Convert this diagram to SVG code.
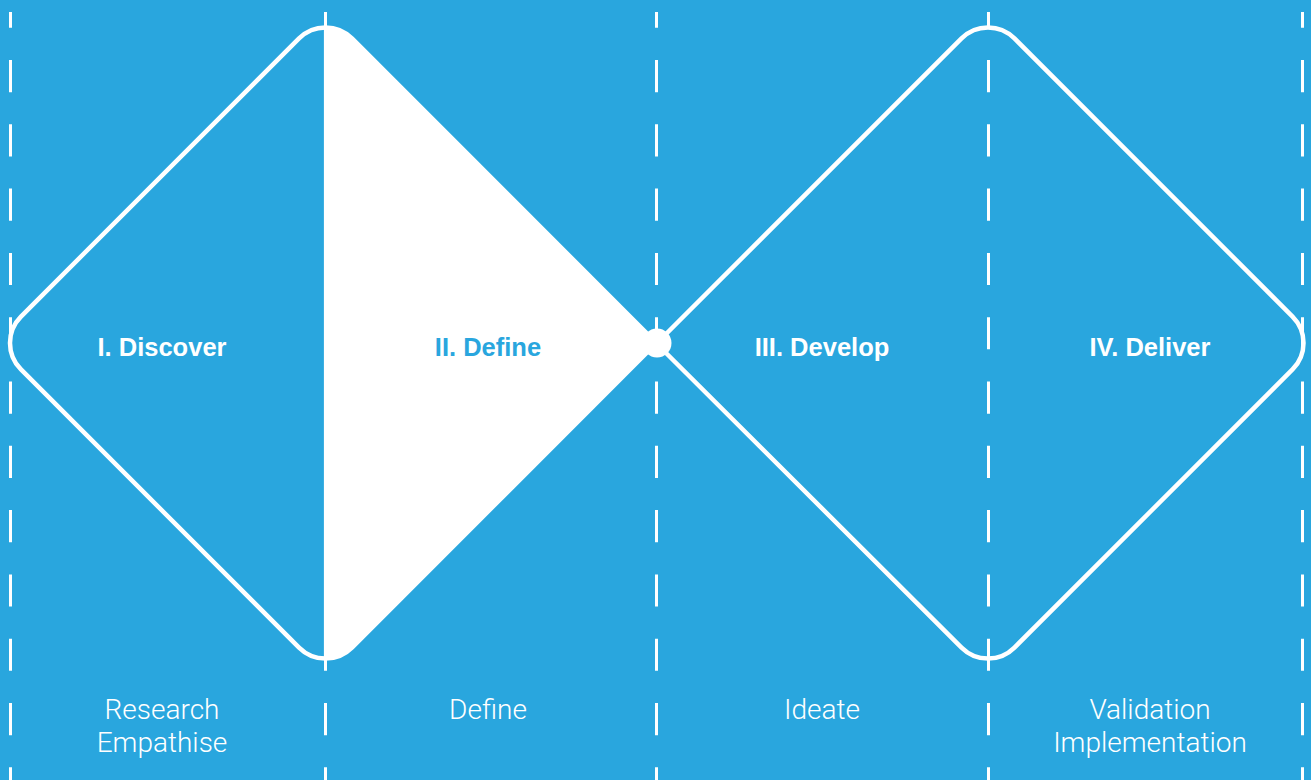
<svg xmlns="http://www.w3.org/2000/svg" width="1311" height="780" viewBox="0 0 1311 780">
  <style>
    .bg { fill: #29a6de; }
    .guide { stroke: #ffffff; stroke-width: 3; stroke-dasharray: 32.15 32.15; stroke-dashoffset: 16.3; fill: none; }
    .diamond { fill: none; stroke: #ffffff; stroke-width: 4.5; stroke-linejoin: round; }
    .half { fill: #ffffff; stroke: none; }
    .title { font-family: "Liberation Sans", "Roboto", sans-serif; font-size: 25.5px; font-weight: 700; fill: #ffffff; text-anchor: middle; }
    .title.dark { fill: #29a6de; }
    .sub { font-family: "Roboto", "Liberation Sans", sans-serif; font-size: 28px; font-weight: 300; fill: #ffffff; text-anchor: middle; }
  </style>
  <rect class="bg" x="0" y="0" width="1311" height="780"/>
  <g id="guides">
    <line class="guide" x1="10.5" y1="12" x2="10.5" y2="780"/>
    <line class="guide" x1="325.5" y1="12" x2="325.5" y2="780"/>
    <line class="guide" x1="656.5" y1="12" x2="656.5" y2="780"/>
    <line class="guide" x1="988.5" y1="12" x2="988.5" y2="780"/>
    <line class="guide" x1="1302.5" y1="12" x2="1302.5" y2="780"/>
  </g>
  <g id="connectors">
    <path class="half" d="M 323.9 27.6 L 325.5 27.49 A 37.4 37.4 0 0 1 351.95 38.45 L 656.5 343 L 351.95 647.55 A 37.4 37.4 0 0 1 325.5 658.51 L 323.9 658.4 Z"/>
    <path class="diamond" d="M 656.5 343 L 351.95 38.45 A 37.4 37.4 0 0 0 299.05 38.45 L 20.95 316.55 A 37.4 37.4 0 0 0 20.95 369.45 L 299.05 647.55 A 37.4 37.4 0 0 0 351.95 647.55 Z"/>
    <path class="diamond" d="M 656.5 343 L 961.55 37.95 A 37.4 37.4 0 0 1 1014.45 37.95 L 1292.55 316.05 A 37.4 37.4 0 0 1 1292.55 368.95 L 1014.45 647.05 A 37.4 37.4 0 0 1 961.55 647.05 Z" transform="translate(0,0.5)"/>
    <circle cx="657" cy="343" r="14.5" fill="#ffffff"/>
  </g>
  <g id="discover">
    <text class="title" x="162" y="356">I. Discover</text>
    <text class="sub" x="162" y="719">Research</text>
    <text class="sub" x="162" y="752">Empathise</text>
  </g>
  <g id="define">
    <text class="title dark" x="488" y="356">II. Define</text>
    <text class="sub" x="488" y="719">Define</text>
  </g>
  <g id="develop">
    <text class="title" x="822" y="356">III. Develop</text>
    <text class="sub" x="822" y="719">Ideate</text>
  </g>
  <g id="deliver">
    <text class="title" x="1150" y="356">IV. Deliver</text>
    <text class="sub" x="1150" y="719">Validation</text>
    <text class="sub" x="1150" y="752">Implementation</text>
  </g>
</svg>
